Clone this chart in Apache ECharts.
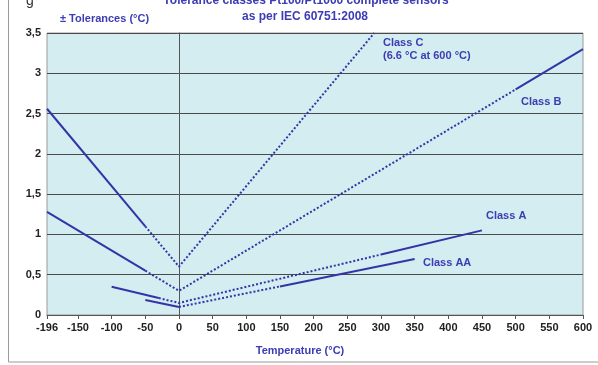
<!DOCTYPE html>
<html><head><meta charset="utf-8">
<script src="https://cdn.jsdelivr.net/npm/echarts@6/dist/echarts.min.js"></script>
<style>html,body{margin:0;padding:0;background:#fff}#c{width:598px;height:365px}</style>
</head><body><div id="c"></div>
<script>
// Tick labels
const xTicks = [-196, -150, -100, -50, 0, 50, 100, 150, 200, 250, 300, 350, 400, 450, 500, 550, 600];
// Class C: ±(0.6 + 0.01|t|)
const classC_solid = [[-196, 2.56], [-50, 1.1]];
const classC_dotted = [[-50, 1.1], [0, 0.6], [290, 3.5]];
// Class B: ±(0.3 + 0.005|t|)
const classB_solidLeft = [[-196, 1.28], [-50, 0.55]];
const classB_dotted = [[-50, 0.55], [0, 0.3], [500, 2.8]];
const classB_solidRight = [[500, 2.8], [600, 3.3]];
// Class A: ±(0.15 + 0.002|t|)
const classA_solidLeft = [[-100, 0.35], [-30, 0.21]];
const classA_dotted = [[-30, 0.21], [0, 0.15], [300, 0.75]];
const classA_solidRight = [[300, 0.75], [450, 1.05]];
// Class AA: ±(0.1 + 0.0017|t|)
const classAA_solidLeft = [[-50, 0.185], [0, 0.1]];
const classAA_dotted = [[0, 0.1], [150, 0.355]];
const classAA_solidRight = [[150, 0.355], [350, 0.695]];

const LINE = '#3434a8';
const TXT = '#3c3cb4';
const FONT = 'Liberation Sans, Arial, sans-serif';

function solid(d){return {type:'line',data:d,showSymbol:false,silent:true,lineStyle:{color:LINE,width:2,type:'solid'}};}
function dotted(d){return {type:'line',data:d,showSymbol:false,silent:true,lineStyle:{color:LINE,width:2,type:[2,2]}};}

const chart = echarts.init(document.getElementById('c'));
chart.setOption({
  animation:false,
  grid:{left:47,right:15,top:33,bottom:50,show:true,backgroundColor:'#d4edf0',borderColor:'#9a9a9a',borderWidth:1},
  xAxis:{type:'value',min:-196,max:600,
    axisLine:{onZero:true,lineStyle:{color:'#555',width:1}},
    axisTick:{show:true,customValues:xTicks,length:4,lineStyle:{color:'#555'}},
    axisLabel:{customValues:xTicks,fontWeight:'bold',fontSize:11,color:'#222',fontFamily:FONT,margin:7},
    splitLine:{show:false}},
  yAxis:{type:'value',min:0,max:3.5,interval:0.5,
    axisLine:{show:true,onZero:true,lineStyle:{color:'#555',width:1}},
    axisTick:{show:true,length:4,lineStyle:{color:'#555'}},
    axisLabel:{formatter:v=>String(v).replace('.',','),fontWeight:'bold',fontSize:11,color:'#222',fontFamily:FONT,margin:6},
    splitLine:{show:true,lineStyle:{color:'#4a4a4a',width:1}}},
  series:[
    solid(classC_solid), dotted(classC_dotted),
    solid(classB_solidLeft), dotted(classB_dotted), solid(classB_solidRight),
    solid(classA_solidLeft), dotted(classA_dotted), solid(classA_solidRight),
    solid(classAA_solidLeft), dotted(classAA_dotted), solid(classAA_solidRight)
  ],
  graphic:[
    {type:'rect',shape:{x:8.5,y:-5,width:640,height:367},style:{fill:'none',stroke:'#9a9a9a',lineWidth:1},silent:true},
    {type:'text',x:30,y:-6,style:{text:'g',font:'14px '+FONT,fill:'#333',align:'center',verticalAlign:'top'}},
    {type:'text',x:306,y:1,style:{text:'Tolerance classes Pt100/Pt1000 complete sensors',font:'bold 12px '+FONT,fill:TXT,align:'center',verticalAlign:'middle'}},
    {type:'text',x:305,y:17,style:{text:'as per IEC 60751:2008',font:'bold 12px '+FONT,fill:TXT,align:'center',verticalAlign:'middle'}},
    {type:'text',x:60,y:19,style:{text:'± Tolerances (°C)',font:'bold 11px '+FONT,fill:TXT,align:'left',verticalAlign:'middle'}},
    {type:'text',x:300,y:351,style:{text:'Temperature (°C)',font:'bold 11px '+FONT,fill:TXT,align:'center',verticalAlign:'middle'}},
    {type:'text',x:383,y:43,style:{text:'Class C',font:'bold 11px '+FONT,fill:TXT,align:'left',verticalAlign:'middle'}},
    {type:'text',x:383,y:56,style:{text:'(6.6 °C at 600 °C)',font:'bold 11px '+FONT,fill:TXT,align:'left',verticalAlign:'middle'}},
    {type:'text',x:521,y:102,style:{text:'Class B',font:'bold 11px '+FONT,fill:TXT,align:'left',verticalAlign:'middle'}},
    {type:'text',x:486,y:216,style:{text:'Class A',font:'bold 11px '+FONT,fill:TXT,align:'left',verticalAlign:'middle'}},
    {type:'text',x:423,y:263,style:{text:'Class AA',font:'bold 11px '+FONT,fill:TXT,align:'left',verticalAlign:'middle'}}
  ]
});
</script></body></html>
